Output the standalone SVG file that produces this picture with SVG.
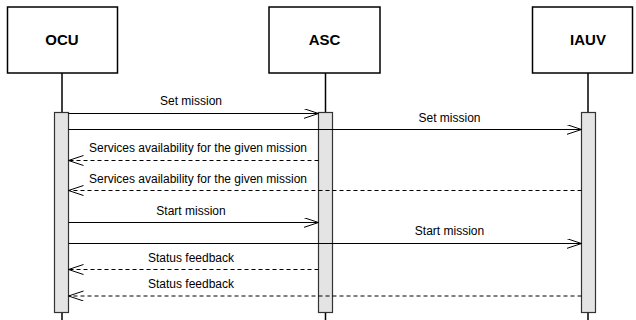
<svg xmlns="http://www.w3.org/2000/svg" width="636" height="320" viewBox="0 0 636 320">
<defs>
<style>
.box{fill:#fff;stroke:#000;stroke-width:1.5}
.title{font-family:"Liberation Sans",Arial,sans-serif;font-size:15px;font-weight:bold;text-anchor:middle;fill:#000}
.life{stroke:#000;stroke-width:1.5}
.bar{fill:#e4e4e4;stroke:#333;stroke-width:1.2}
.msg{stroke:#000;stroke-width:1;fill:none}
.ret{stroke:#000;stroke-width:1;fill:none;stroke-dasharray:4,3}
.lbl{font-family:"Liberation Sans",Arial,sans-serif;font-size:12px;text-anchor:middle;fill:#000}
</style>
<marker id="open" markerWidth="16" markerHeight="12" refX="15" refY="5" orient="auto" markerUnits="userSpaceOnUse">
<path d="M0,0 L15,5 L0,10" fill="none" stroke="#000" stroke-width="1"/>
</marker>
</defs>
<g id="OCU">
<line class="life" x1="62" y1="73" x2="62" y2="320"/>
<rect class="box" x="7.5" y="7" width="110" height="66"/>
<text class="title" x="62" y="45">OCU</text>
<rect class="bar" x="54.5" y="112.5" width="14" height="200"/>
</g>
<g id="ASC">
<line class="life" x1="325.5" y1="73" x2="325.5" y2="320"/>
<rect class="box" x="269" y="7" width="111" height="66"/>
<text class="title" x="324.5" y="45">ASC</text>
<rect class="bar" x="318.5" y="112.5" width="14" height="200"/>
</g>
<g id="IAUV">
<line class="life" x1="588" y1="73" x2="588" y2="320"/>
<rect class="box" x="532.5" y="7" width="100" height="66"/>
<text class="title" x="588" y="45">IAUV</text>
<rect class="bar" x="581.5" y="112.5" width="14" height="200"/>
</g>
<g id="connectors">
<line class="msg" x1="68.5" y1="113.5" x2="318.5" y2="113.5" marker-end="url(#open)"/>
<text class="lbl" x="191" y="105">Set mission</text>
<line class="msg" x1="68.5" y1="129.5" x2="581.5" y2="129.5" marker-end="url(#open)"/>
<text class="lbl" x="449.5" y="122">Set mission</text>
<line class="ret" x1="318.5" y1="160.5" x2="68.5" y2="160.5" marker-end="url(#open)"/>
<text class="lbl" x="198" y="152">Services availability for the given mission</text>
<line class="ret" x1="581.5" y1="190.5" x2="68.5" y2="190.5" marker-end="url(#open)"/>
<text class="lbl" x="198" y="183">Services availability for the given mission</text>
<line class="msg" x1="68.5" y1="222.5" x2="318.5" y2="222.5" marker-end="url(#open)"/>
<text class="lbl" x="191" y="214.5">Start mission</text>
<line class="msg" x1="68.5" y1="243.5" x2="581.5" y2="243.5" marker-end="url(#open)"/>
<text class="lbl" x="449.5" y="235">Start mission</text>
<line class="ret" x1="318.5" y1="269.5" x2="68.5" y2="269.5" marker-end="url(#open)"/>
<text class="lbl" x="191" y="261.5">Status feedback</text>
<line class="ret" x1="581.5" y1="296" x2="68.5" y2="296" marker-end="url(#open)"/>
<text class="lbl" x="191" y="287.5">Status feedback</text>
</g>
</svg>
